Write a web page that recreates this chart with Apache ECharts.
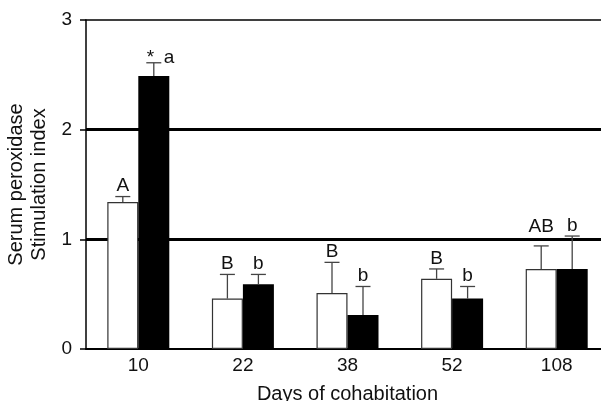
<!DOCTYPE html>
<html><head><meta charset="utf-8">
<script src="https://cdn.jsdelivr.net/npm/echarts@6/dist/echarts.min.js"></script>
<style>html,body{margin:0;padding:0;background:#fff}#c{width:601px;height:401px}</style>
</head><body><div id="c"></div>
<script>
const categories = ['10', '22', '38', '52', '108'];
const whiteMeans = [1.34, 0.46, 0.51, 0.64, 0.73];
const whiteErrTop = [1.39, 0.68, 0.79, 0.73, 0.94];
const blackMeans = [2.49, 0.59, 0.31, 0.46, 0.73];
const blackErrTop = [2.61, 0.68, 0.57, 0.57, 1.03];
const whiteLabels = ['A', 'B', 'B', 'B', 'AB'];
const blackLabels = ['*\u2002a', 'b', 'b', 'b', 'b'];
const yTickLabels = ['0', '1', '2', '3'];
const xTitle = 'Days of cohabitation';
const yTitle = 'Serum peroxidase\nStimulation index';

const FONT = '"Liberation Sans", Arial, Helvetica, sans-serif';
const BAR_W = 31;

function makeErr(side, labels) {
  return function (params, api) {
    const i = api.value(0);
    const base = api.coord([i, api.value(1)]);
    const top = api.coord([i, api.value(2)]);
    const x = base[0] + side * BAR_W / 2;
    const capHalf = 7.5;
    const txt = labels[params.dataIndex];
    let ty = top[1] - 1;
    // keep label clear of reference line at 1
    const y1 = api.coord([i, 1])[1];
    if (ty - 4 > y1 - 2 && ty - 18 < y1 + 2) ty = y1 - 3;
    let tx = x, align = 'center';
    if (txt.charAt(0) === '*') { tx = x - 7; align = 'left'; ty = top[1] + 4; }
    return {
      type: 'group',
      children: [
        { type: 'line', shape: { x1: x, y1: base[1], x2: x, y2: top[1] }, style: { stroke: '#444', lineWidth: 1.3 } },
        { type: 'line', shape: { x1: x - capHalf, y1: top[1], x2: x + capHalf, y2: top[1] }, style: { stroke: '#444', lineWidth: 1.3 } },
        { type: 'text', x: tx, y: ty, style: { text: txt, align: align, verticalAlign: 'bottom', font: '19px ' + FONT, fill: '#111' } }
      ]
    };
  };
}

const chart = echarts.init(document.getElementById('c'), null, { renderer: 'canvas' });
chart.setOption({
  animation: false,
  backgroundColor: '#fff',
  grid: { left: 86, top: 20, height: 329, width: 523, containLabel: false, outerBoundsMode: 'none' },
  xAxis: [{
    type: 'category', data: categories, position: 'bottom',
    axisLine: { show: true, lineStyle: { color: '#000', width: 2 } },
    axisTick: { show: false },
    axisLabel: { color: '#111', fontSize: 19, fontFamily: FONT, margin: 7 },
    name: xTitle, nameLocation: 'middle', nameGap: 35,
    nameTextStyle: { color: '#111', fontSize: 20, fontFamily: FONT }
  }, {
    type: 'category', data: categories, position: 'top',
    axisLine: { show: true, lineStyle: { color: '#000', width: 1.5 } },
    axisTick: { show: false }, axisLabel: { show: false }
  }],
  yAxis: {
    type: 'value', min: 0, max: 3, interval: 1,
    axisLine: { show: true, lineStyle: { color: '#000', width: 1.5 } },
    axisTick: { show: true, inside: false, length: 6, lineStyle: { color: '#000', width: 1.5 } },
    axisLabel: { color: '#111', fontSize: 19, fontFamily: FONT, margin: 14,
      formatter: function (v) { return yTickLabels[Math.round(v)]; } },
    splitLine: { show: true, lineStyle: { color: ['transparent', '#000', '#000', 'transparent'], width: 3 } },
    name: yTitle, nameLocation: 'middle', nameGap: 29, nameRotate: 90,
    nameTextStyle: { color: '#111', fontSize: 20, fontFamily: FONT, lineHeight: 23 }
  },
  series: [
    { type: 'bar', data: whiteMeans, barWidth: BAR_W, barGap: '0%',
      itemStyle: { color: '#fff', borderColor: '#333', borderWidth: 1.2 }, z: 3 },
    { type: 'bar', data: blackMeans, barWidth: BAR_W, barGap: '0%',
      itemStyle: { color: '#000' }, z: 3 },
    { type: 'custom', renderItem: makeErr(-1, whiteLabels), z: 4,
      data: categories.map((c, i) => [i, whiteMeans[i], whiteErrTop[i]]) },
    { type: 'custom', renderItem: makeErr(1, blackLabels), z: 4,
      data: categories.map((c, i) => [i, blackMeans[i], blackErrTop[i]]) }
  ]
});
</script>
</body></html>
